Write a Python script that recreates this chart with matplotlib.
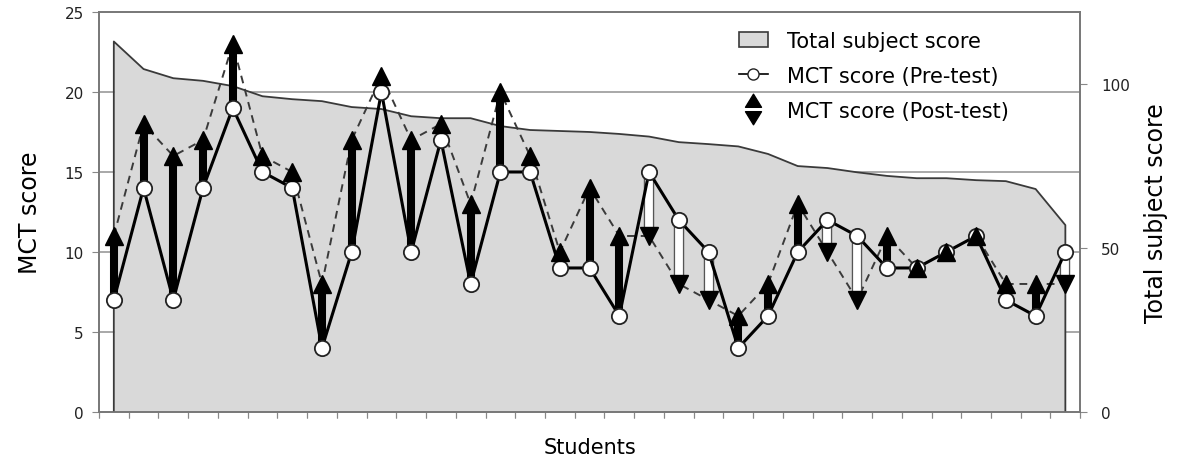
import numpy as np
import matplotlib
matplotlib.use("Agg")
import matplotlib.pyplot as plt
from matplotlib.path import Path
from matplotlib.lines import Line2D
from matplotlib.patches import Patch
from matplotlib.transforms import blended_transform_factory

# data
students = np.arange(1, 34)
pre_test = [7, 14, 7, 14, 19, 15, 14, 4, 10, 20, 10, 17, 8, 15, 15, 9, 9, 6,
            15, 12, 10, 4, 6, 10, 12, 11, 9, 9, 10, 11, 7, 6, 10]
post_test = [11, 18, 16, 17, 23, 16, 15, 8, 17, 21, 17, 18, 13, 20, 16, 10, 14, 11,
             11, 8, 7, 6, 8, 13, 10, 7, 11, 9, 10, 11, 8, 8, 8]
total_score = [113, 104.6, 101.8, 101, 99.4, 96.3, 95.4, 94.8, 93, 92.4, 90.2,
               89.6, 89.6, 87.2, 86, 85.7, 85.4, 84.8, 84, 82.3, 81.7, 81, 78.7,
               75, 74.4, 73.1, 72, 71.3, 71.3, 70.7, 70.4, 68, 57]

mct_ticks = [0, 5, 10, 15, 20, 25]
total_ticks = [0, 50, 100]

fig = plt.figure(figsize=(11.78, 4.64), dpi=100)
ax2 = fig.add_axes([0.084, 0.110, 0.833, 0.862])
ax1 = fig.add_axes([0.084, 0.110, 0.833, 0.862], sharex=ax2)
ax1.set_zorder(ax2.get_zorder() + 1)
ax1.patch.set_visible(False)

# total subject score area (right axis)
ax2.fill_between(students, total_score, 0, color="#d9d9d9", lw=0, zorder=2)
xs = np.concatenate([[students[0]], students, [students[-1]]])
ys = np.concatenate([[0], total_score, [0]])
ax2.plot(xs, ys, color="#3a3a3a", lw=1.3, zorder=3)
ax2.set_ylim(0, 122)
ax2.set_yticks(total_ticks)
ax2.yaxis.tick_right()
ax2.yaxis.set_label_position("right")
ax2.set_ylabel("Total subject score", fontsize=17, labelpad=10)
ax2.tick_params(axis="y", length=5, colors="#888888", labelcolor="#222222",
                labelsize=11, pad=10)

# gridlines behind the area, at the MCT ticks
gtr = blended_transform_factory(ax2.transAxes, ax1.transData)
for t in mct_ticks[1:-1]:
    ax2.plot([0, 1], [t, t], transform=gtr, color="#999999", lw=1.2, zorder=1)

# post-test dashed line
ax1.plot(students, post_test, color="#3a3a3a", lw=1.4, ls=(0, (4, 3)), zorder=3)

# arrows from pre to post
for x, a, b in zip(students, pre_test, post_test):
    if b >= a:
        ax1.plot([x, x], [a, b], color="black", lw=5.8, solid_capstyle="butt", zorder=4)
    else:
        ax1.plot([x, x], [a, b], color="#555555", lw=7.5, solid_capstyle="butt", zorder=4)
        ax1.plot([x, x], [a, b], color="white", lw=5.6, solid_capstyle="butt", zorder=4)

# pre-test line
ax1.plot(students, pre_test, color="black", lw=2.2, marker="o", ms=11,
         mfc="white", mec="#222222", mew=1.3, zorder=5)

# arrow heads at post-test values
for x, a, b in zip(students, pre_test, post_test):
    ax1.plot(x, b, marker="^" if b >= a else "v", ms=12.5, color="black", zorder=6)

ax1.set_xlim(0.5, 33.5)
ax1.set_ylim(0, 25)
ax1.set_yticks(mct_ticks)
ax1.set_xticks(np.arange(0.5, 34, 1))
ax1.tick_params(axis="x", labelbottom=False, length=4, colors="#888888")
ax2.tick_params(axis="x", labelbottom=False, length=4, colors="#888888")
ax1.tick_params(axis="y", length=5, colors="#888888", labelcolor="#222222",
                labelsize=11, pad=6)
ax1.set_ylabel("MCT score", fontsize=17, labelpad=16)
ax1.set_xlabel("Students", fontsize=15, labelpad=14)

for ax in (ax1, ax2):
    for s in ax.spines.values():
        s.set_color("#777777")
        s.set_linewidth(1.2)

# legend
pp = Path([(-0.55, 0.15), (0.55, 0.15), (0, 1.05), (-0.55, 0.15),
           (-0.55, -0.15), (0.55, -0.15), (0, -1.05), (-0.55, -0.15)],
          [Path.MOVETO, Path.LINETO, Path.LINETO, Path.CLOSEPOLY] * 2)
handles = [
    Patch(facecolor="#d9d9d9", edgecolor="#3a3a3a", lw=1.2),
    Line2D([], [], color="black", lw=1.2, marker="o", ms=8, mfc="white", mec="#222222"),
    Line2D([], [], ls="none", marker=pp, ms=22, color="black"),
]
labels = ["Total subject score", "MCT score (Pre-test)", "MCT score (Post-test)"]
ax1.legend(handles, labels, loc="upper left", bbox_to_anchor=(0.62, 0.95),
           bbox_transform=fig.transFigure, frameon=False, fontsize=15,
           labelspacing=0.72, handlelength=1.4, handletextpad=0.9,
           borderaxespad=0)

fig.savefig("out.png", dpi=100)
